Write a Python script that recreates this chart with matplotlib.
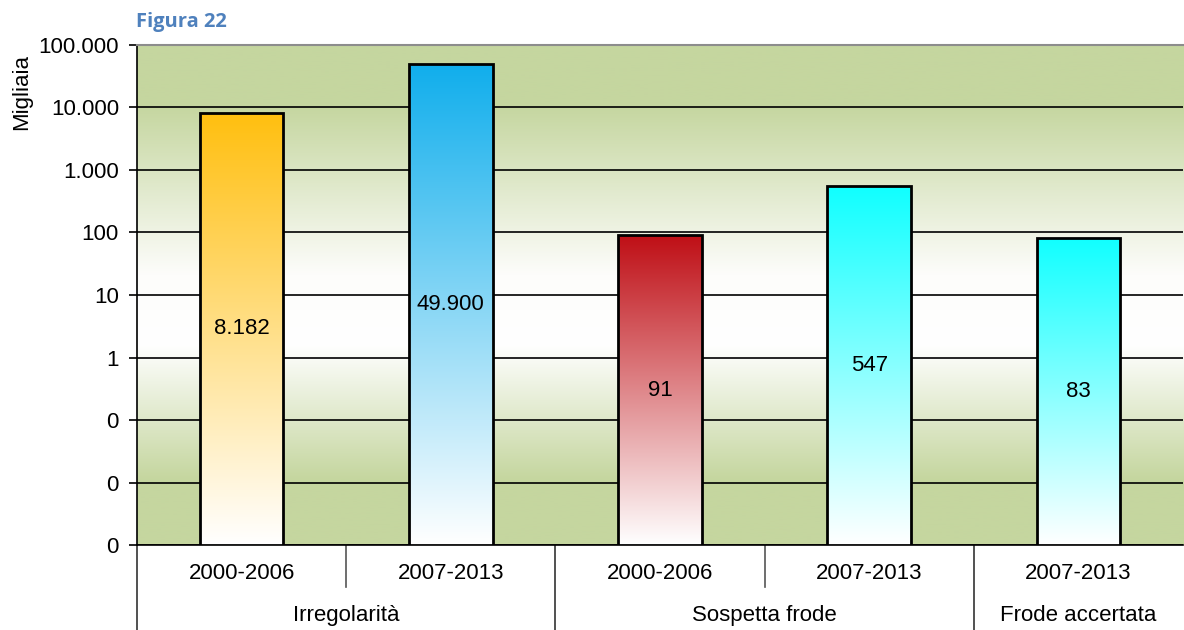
import numpy as np
import matplotlib
matplotlib.use('Agg')
import matplotlib.pyplot as plt
from matplotlib.colors import LinearSegmentedColormap
from matplotlib.ticker import FixedLocator, FuncFormatter
import matplotlib.transforms as mtransforms

plt.rcParams['font.family'] = ['Liberation Sans', 'DejaVu Sans']

# dati (migliaia)
periodi = ['2000-2006', '2007-2013', '2000-2006', '2007-2013', '2007-2013']
valori = [8182, 49900, 91, 547, 83]
etichette = ['8.182', '49.900', '91', '547', '83']
gruppi = ['Irregolarità', 'Sospetta frode', 'Frode accertata']
gruppi_n = [2, 2, 1]
colori_top = ['#ffbf0f', '#10aeec', '#bf0f16', '#10ffff', '#10ffff']
tick_vals = [0.001, 0.01, 0.1, 1, 10, 100, 1000, 10000, 100000]

fig = plt.figure(figsize=(11.84, 6.30), dpi=100)
pos = [0.1157, 0.1349, 0.8835, 0.7937]

# sfondo in un asse separato: verde in alto e in basso, bianco al centro
bg = fig.add_axes(pos, zorder=0)
bg.axis('off')
sfondo = LinearSegmentedColormap.from_list(
    'sf', [(0, '#c5d69f'), (0.12, '#c5d69f'), (0.46, '#fdfdfb'),
           (0.60, '#ffffff'), (0.87, '#c5d69f'), (1, '#c5d69f')])
grad = np.linspace(0, 1, 256).reshape(-1, 1)
bg.imshow(grad, cmap=sfondo, aspect='auto', extent=(0, 1, 0, 1))
bg.set_xlim(0, 1)
bg.set_ylim(0, 1)

ax = fig.add_axes(pos, zorder=1)
ax.set_facecolor('none')
ax.set_yscale('log')
ax.set_ylim(0.001, 100000)
ax.set_xlim(-0.5, len(valori) - 0.5)

ax.yaxis.set_major_locator(FixedLocator(tick_vals))
ax.yaxis.set_minor_locator(FixedLocator([]))
ax.yaxis.set_major_formatter(FuncFormatter(lambda v, p: f'{v:,.0f}'.replace(',', '.')))
ax.grid(axis='y', color='black', linewidth=1.2, zorder=1)
ax.set_axisbelow(True)
ax.tick_params(axis='y', labelsize=16, length=6, width=1.2, pad=7)
ax.tick_params(axis='x', length=0, labelbottom=False)
ax.set_ylabel('Migliaia', fontsize=16)
ax.yaxis.set_label_coords(-0.1, 0.905)

ax.spines['top'].set_color('#8c8c8c')
ax.spines['top'].set_linewidth(1.5)
ax.spines['right'].set_visible(False)
ax.spines['left'].set_linewidth(1.2)
ax.spines['bottom'].set_linewidth(1.2)

x = np.arange(len(valori))
bars = ax.bar(x, valori, width=0.4, bottom=0.001, facecolor='none',
              edgecolor='black', linewidth=2, zorder=4)

to_axes = ax.transData + ax.transAxes.inverted()
col = np.linspace(1, 0, 256).reshape(-1, 1)
for b, v, c, lab, xi in zip(bars, valori, colori_top, etichette, x):
    top = to_axes.transform((xi, v))[1]
    cm = LinearSegmentedColormap.from_list('b', ['#ffffff', c])
    im = ax.imshow(col, cmap=cm, aspect='auto', extent=(0, 1, 0, top),
                   transform=ax.transAxes, zorder=3, interpolation='bicubic')
    im.set_clip_path(b)
    ymid = np.sqrt(0.001 * v)
    ax.text(xi, ymid, lab, ha='center', va='center', fontsize=16, zorder=5)

# asse x gerarchico
trans = mtransforms.blended_transform_factory(ax.transData, ax.transAxes)
for xi, p in zip(x, periodi):
    ax.text(xi, -0.056, p, transform=trans, ha='center', va='center', fontsize=16)

start = 0
confini = [-0.5]
for g, n in zip(gruppi, gruppi_n):
    centro = start + (n - 1) / 2
    ax.text(centro, -0.14, g, transform=trans, ha='center', va='center', fontsize=16)
    for k in range(1, n):
        xs = start + k - 0.5
        ax.plot([xs, xs], [0, -0.084], transform=trans, color='#555555',
                linewidth=1.2, clip_on=False)
    start += n
    confini.append(start - 0.5)
for xs in confini[:-1]:
    ax.plot([xs, xs], [0, -0.18], transform=trans, color='#333333',
            linewidth=1.2, clip_on=False)

fig.text(0.1145, 0.965, 'Figura 22', fontsize=14.5, fontweight='bold',
         color='#4f81bd', family=['Open Sans', 'DejaVu Sans'], va='center')

fig.savefig('out.png', dpi=100)
